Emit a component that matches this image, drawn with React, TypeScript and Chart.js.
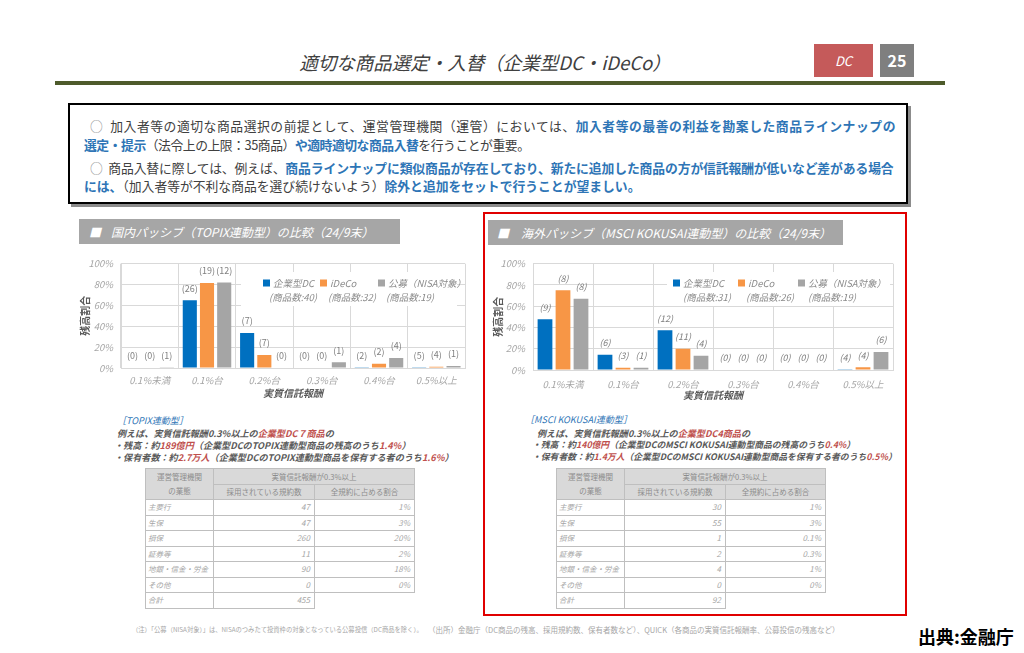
import React, { useEffect, useRef } from "react";
import { Chart, registerables } from "chart.js";
Chart.register(...registerables);

const FONT = '"Noto Sans CJK JP", "Noto Sans", sans-serif';

const categories = ["0.1%未満", "0.1%台", "0.2%台", "0.3%台", "0.4%台", "0.5%以上"];
const seriesNames = ["企業型DC", "iDeCo", "公募（NISA対象）"];
const seriesColors = ["#0070c0", "#f79646", "#a5a5a5"];
const yTickValues = [0, 20, 40, 60, 80, 100];

const topixShareDC = [0, 65, 33.5, 0, 0.6, 0.3];
const topixShareIDeCo = [0, 81.5, 12.4, 0, 4, 1.2];
const topixShareNISA = [0.2, 82, 0, 5.6, 9.6, 2];
const topixCountDC = [0, 26, 7, 0, 2, 5];
const topixCountIDeCo = [0, 19, 7, 0, 2, 4];
const topixCountNISA = [1, 12, 0, 1, 4, 1];
const topixProductTotals = ["(商品数:40)", "(商品数:32)", "(商品数:19)"];

const kokusaiShareDC = [47.8, 14.4, 37.5, 0, 0, 0.3];
const kokusaiShareIDeCo = [75, 2.2, 20, 0, 0, 2.5];
const kokusaiShareNISA = [67, 2.2, 13.4, 0, 0, 17];
const kokusaiCountDC = [9, 6, 12, 0, 0, 4];
const kokusaiCountIDeCo = [8, 3, 11, 0, 0, 4];
const kokusaiCountNISA = [8, 1, 4, 0, 0, 6];
const kokusaiProductTotals = ["(商品数:31)", "(商品数:26)", "(商品数:19)"];

const tableRowLabels = ["主要行", "生保", "損保", "証券等", "地銀・信金・労金", "その他", "合計"];
const topixContracts = [47, 47, 260, 11, 90, 0, 455];
const topixContractShare = ["1%", "3%", "20%", "2%", "18%", "0%"];
const kokusaiContracts = [30, 55, 1, 2, 4, 0, 92];
const kokusaiContractShare = ["1%", "3%", "0.1%", "0.3%", "1%", "0%"];

type ChartProps = {
  left: number;
  top: number;
  width: number;
  height: number;
  padTop: number;
  padRight: number;
  yWidth: number;
  xHeight: number;
  yTitlePad: number;
  xTitlePad: number;
  xTickPad: number;
  shares: number[][];
  counts: number[][];
  totals: string[];
  labelItalic: boolean;
  legendRect: [number, number, number, number];
  legendSquares: number[];
  legendRow1: number;
  legendRow2: number;
  legendRow2Centers: number[];
};

function BarChart(p: ChartProps) {
  const ref = useRef<HTMLCanvasElement | null>(null);
  useEffect(() => {
    if (!ref.current) return;
    const countPlugin = {
      id: "countLabels",
      afterDatasetsDraw(chart: any) {
        const ctx = chart.ctx;
        ctx.save();
        ctx.font = `${p.labelItalic ? "italic " : ""}9px ${FONT}`;
        ctx.fillStyle = "#808080";
        ctx.textAlign = "center";
        ctx.textBaseline = "middle";
        chart.data.datasets.forEach((_ds: any, i: number) => {
          const meta = chart.getDatasetMeta(i);
          meta.data.forEach((bar: any, j: number) => {
            ctx.fillText(`(${p.counts[i][j]})`, bar.x, bar.y - 12);
          });
        });
        // legend
        const [rx, ry, rw, rh] = p.legendRect;
        ctx.fillStyle = "#ffffff";
        ctx.fillRect(rx, ry, rw, rh);
        ctx.font = `italic 9.5px ${FONT}`;
        ctx.textAlign = "left";
        for (let i = 0; i < 3; i++) {
          ctx.fillStyle = seriesColors[i];
          ctx.fillRect(p.legendSquares[i], p.legendRow1 - 3.5, 7, 7);
          ctx.fillStyle = "#8c8c8c";
          ctx.fillText(seriesNames[i], p.legendSquares[i] + 10, p.legendRow1);
        }
        ctx.textAlign = "center";
        for (let i = 0; i < 3; i++) {
          ctx.fillText(p.totals[i], p.legendRow2Centers[i], p.legendRow2);
        }
        ctx.restore();
      },
    };
    const chart = new Chart(ref.current, {
      type: "bar",
      data: {
        labels: categories,
        datasets: p.shares.map((s, i) => ({
          label: seriesNames[i],
          data: s,
          backgroundColor: seriesColors[i],
          borderWidth: 0,
          barPercentage: 0.82,
          categoryPercentage: 0.9,
        })),
      },
      options: {
        animation: false,
        responsive: false,
        maintainAspectRatio: false,
        layout: { padding: { top: p.padTop, right: p.padRight, left: 0, bottom: 0 } },
        plugins: { legend: { display: false }, tooltip: { enabled: false } },
        scales: {
          x: {
            grid: { color: "#d9d9d9", drawTicks: false, offset: true },
            border: { color: "#d9d9d9" },
            ticks: {
              color: "#a6a6a6",
              font: { family: FONT, size: 9.5, style: "italic" },
              padding: p.xTickPad,
              maxRotation: 0,
              autoSkip: false,
            },
            title: {
              display: true,
              text: "実質信託報酬",
              color: "#595959",
              font: { family: FONT, size: 10, weight: "bold", style: "italic" },
              padding: { top: 0, bottom: p.xTitlePad },
            },
            afterFit: (s: any) => {
              s.height = p.xHeight;
            },
          },
          y: {
            min: 0,
            max: 100,
            afterBuildTicks: (s: any) => {
              s.ticks = yTickValues.map((v) => ({ value: v }));
            },
            grid: { color: "#d9d9d9", drawTicks: false },
            border: { color: "#d9d9d9" },
            ticks: {
              color: "#a6a6a6",
              font: { family: FONT, size: 9.5, style: "italic" },
              padding: 8,
              callback: (v: any) => `${v}%`,
            },
            title: {
              display: true,
              text: "残高割合",
              color: "#595959",
              font: { family: FONT, size: 10, weight: "bold" },
              padding: { top: p.yTitlePad, bottom: 0 },
            },
            afterFit: (s: any) => {
              s.width = p.yWidth;
            },
          },
        },
      } as any,
      plugins: [countPlugin],
    });
    return () => chart.destroy();
  }, []);
  return (
    <canvas
      ref={ref}
      width={p.width}
      height={p.height}
      style={{ position: "absolute", left: p.left, top: p.top, width: p.width, height: p.height }}
    />
  );
}

function DataTable({ left, contracts, shares }: { left: number; contracts: number[]; shares: string[] }) {
  const bd = "1px solid #bfbfbf";
  const hdr: React.CSSProperties = {
    border: bd,
    background: "#d9d9d9",
    textAlign: "center",
    fontStyle: "normal",
    fontSize: 7.5,
    padding: 0,
    color: "#8c8c8c",
    whiteSpace: "nowrap",
  };
  const td: React.CSSProperties = { border: bd, padding: "0 4px", height: 14.5, whiteSpace: "nowrap", overflow: "hidden" };
  return (
    <table
      style={{
        position: "absolute",
        left,
        top: 468,
        borderCollapse: "collapse",
        tableLayout: "fixed",
        width: 269,
        fontSize: 8,
        color: "#a6a6a6",
        fontStyle: "italic",
        fontFamily: FONT,
        lineHeight: "10px",
      }}
    >
      <colgroup>
        <col style={{ width: 68 }} />
        <col style={{ width: 101 }} />
        <col style={{ width: 100 }} />
      </colgroup>
      <tbody>
        <tr style={{ height: 16 }}>
          <td rowSpan={2} style={{ ...hdr, lineHeight: "14px" }}>
            運営管理機関
            <br />
            の業態
          </td>
          <td colSpan={2} style={hdr}>
            実質信託報酬が0.3%以上
          </td>
        </tr>
        <tr style={{ height: 15 }}>
          <td style={hdr}>採用されている規約数</td>
          <td style={hdr}>全規約に占める割合</td>
        </tr>
        {tableRowLabels.map((lab, i) => (
          <tr key={lab} style={{ height: 15.5 }}>
            <td style={{ ...td, textAlign: "left", padding: "0 2px", fontSize: 7.5 }}>{lab}</td>
            <td style={{ ...td, textAlign: "right" }}>{contracts[i]}</td>
            {i < shares.length ? (
              <td style={{ ...td, textAlign: "right" }}>{shares[i]}</td>
            ) : (
              <td style={{ border: "none" }} />
            )}
          </tr>
        ))}
      </tbody>
    </table>
  );
}

const blue: React.CSSProperties = { color: "#2e75b6", fontWeight: "bold" };
const red: React.CSSProperties = { color: "#c0504d" };

export default function App() {
  const lineStyle = (top: number, left: number, ls: number): React.CSSProperties => ({
    position: "absolute",
    top: top - 9,
    left,
    whiteSpace: "nowrap",
    fontSize: 12.8,
    lineHeight: "18px",
    color: "#404040",
    letterSpacing: ls,
  });
  const smallLine = (top: number, left: number, extra?: React.CSSProperties): React.CSSProperties => ({
    position: "absolute",
    top: top - 5,
    left,
    whiteSpace: "nowrap",
    fontSize: 9.1,
    lineHeight: "10px",
    color: "#595959",
    fontStyle: "italic",
    fontWeight: "bold",
    ...extra,
  });
  return (
    <div
      style={{
        position: "absolute",
        left: 0,
        top: 0,
        width: 1024,
        height: 653,
        overflow: "hidden",
        background: "#ffffff",
        fontFamily: FONT,
      }}
    >
      {/* title */}
      <div
        style={{
          position: "absolute",
          left: 250,
          width: 470,
          top: 49,
          textAlign: "center",
          fontSize: 18.5,
          lineHeight: "26px",
          fontStyle: "italic",
          color: "#404040",
        }}
      >
        適切な商品選定・入替（企業型DC・iDeCo）
      </div>
      <div
        style={{
          position: "absolute",
          left: 814,
          top: 44,
          width: 59,
          height: 33,
          background: "#c55a5a",
          color: "#fff",
          fontStyle: "italic",
          fontSize: 13,
          lineHeight: "33px",
          textAlign: "center",
        }}
      >
        DC
      </div>
      <div
        style={{
          position: "absolute",
          left: 880,
          top: 44,
          width: 34,
          height: 33,
          background: "#7f7f7f",
          color: "#fff",
          fontWeight: "bold",
          fontSize: 16,
          lineHeight: "33px",
          textAlign: "center",
        }}
      >
        25
      </div>
      <div style={{ position: "absolute", left: 55, top: 81, width: 890, height: 4, background: "#4e5b2b" }} />

      {/* top box */}
      <div
        style={{
          position: "absolute",
          left: 68,
          top: 103,
          width: 836,
          height: 97,
          border: "2px solid #000",
          boxShadow: "3px 3px 0 #8c8c8c",
        }}
      />
      <div style={lineStyle(126, 90, 0.55)}>
        <span style={{ color: "#8c8c8c" }}>○</span>&nbsp;&nbsp;加入者等の適切な商品選択の前提として、運営管理機関（運管）においては、
        <span style={blue}>加入者等の最善の利益を勘案した商品ラインナップの</span>
      </div>
      <div style={lineStyle(145, 84, -0.45)}>
        <span style={blue}>選定・提示</span>（法令上の上限：35商品）<span style={blue}>や適時適切な商品入替</span>を行うことが重要。
      </div>
      <div style={lineStyle(168, 90, -0.1)}>
        <span style={{ color: "#8c8c8c" }}>○</span>&nbsp;&nbsp;商品入替に際しては、例えば、
        <span style={blue}>商品ラインナップに類似商品が存在しており、新たに追加した商品の方が信託報酬が低いなど差がある場合</span>
      </div>
      <div style={lineStyle(186, 84, 0)}>
        <span style={blue}>には、</span>（加入者等が不利な商品を選び続けないよう）<span style={blue}>除外と追加をセットで行うことが望ましい。</span>
      </div>

      {/* section headers */}
      <div
        style={{
          position: "absolute",
          left: 79,
          top: 219,
          width: 321,
          height: 25,
          background: "#a6a6a6",
          color: "#fff",
          fontStyle: "italic",
          fontSize: 12,
          lineHeight: "25px",
          whiteSpace: "nowrap",
        }}
      >
        <span style={{ marginLeft: 10 }}>■</span>
        <span style={{ marginLeft: 10 }}>国内パッシブ（TOPIX連動型）の比較（24/9末）</span>
      </div>
      <div
        style={{
          position: "absolute",
          left: 483,
          top: 212,
          width: 420,
          height: 400,
          border: "2px solid #e00000",
        }}
      />
      <div
        style={{
          position: "absolute",
          left: 488,
          top: 220,
          width: 355,
          height: 25,
          background: "#a6a6a6",
          color: "#fff",
          fontStyle: "italic",
          fontSize: 12,
          lineHeight: "25px",
          whiteSpace: "nowrap",
        }}
      >
        <span style={{ marginLeft: 9 }}>■</span>
        <span style={{ marginLeft: 12 }}>海外パッシブ（MSCI KOKUSAI連動型）の比較（24/9末）</span>
      </div>

      <BarChart
        left={60}
        top={250}
        width={415}
        height={152}
        padTop={10}
        padRight={10}
        yWidth={61}
        xHeight={34}
        yTitlePad={19}
        xTitlePad={3}
        xTickPad={7}
        shares={[topixShareDC, topixShareIDeCo, topixShareNISA]}
        counts={[topixCountDC, topixCountIDeCo, topixCountNISA]}
        totals={topixProductTotals}
        labelItalic={false}
        legendRect={[181, 22, 216, 34]}
        legendSquares={[203, 260, 318]}
        legendRow1={33}
        legendRow2={47}
        legendRow2Centers={[233, 292, 350]}
      />
      <BarChart
        left={480}
        top={250}
        width={425}
        height={152}
        padTop={13}
        padRight={12}
        yWidth={53}
        xHeight={32}
        yTitlePad={12}
        xTitlePad={1}
        xTickPad={9}
        shares={[kokusaiShareDC, kokusaiShareIDeCo, kokusaiShareNISA]}
        counts={[kokusaiCountDC, kokusaiCountIDeCo, kokusaiCountNISA]}
        totals={kokusaiProductTotals}
        labelItalic={true}
        legendRect={[187, 22, 223, 34]}
        legendSquares={[193, 258, 318]}
        legendRow1={33}
        legendRow2={47}
        legendRow2Centers={[227, 290, 352]}
      />

      {/* left notes */}
      <div style={smallLine(420, 117, { color: "#2e75b6", fontWeight: "normal" })}>［TOPIX連動型］</div>
      <div style={smallLine(433, 117)}>
        例えば、実質信託報酬0.3%以上の<span style={red}>企業型DC７商品</span>の
      </div>
      <div style={smallLine(445, 114)}>
        ・残高：約<span style={red}>189億円</span>（企業型DCのTOPIX連動型商品の残高のうち<span style={red}>1.4%</span>）
      </div>
      <div style={smallLine(457, 114)}>
        ・保有者数：約<span style={red}>2.7万人</span>（企業型DCのTOPIX連動型商品を保有する者のうち<span style={red}>1.6%</span>）
      </div>
      {/* right notes */}
      <div style={smallLine(419, 525, { color: "#2e75b6", fontWeight: "normal" })}>［MSCI KOKUSAI連動型］</div>
      <div style={smallLine(433, 537)}>
        例えば、実質信託報酬0.3%以上の<span style={red}>企業型DC4商品</span>の
      </div>
      <div style={smallLine(445, 532, { fontSize: 8.8 })}>
        ・残高：約<span style={red}>140億円</span>（企業型DCのMSCI KOKUSAI連動型商品の残高のうち<span style={red}>0.4%</span>）
      </div>
      <div style={smallLine(457, 532, { fontSize: 8.8 })}>
        ・保有者数：約<span style={red}>1.4万人</span>（企業型DCのMSCI KOKUSAI連動型商品を保有する者のうち<span style={red}>0.5%</span>）
      </div>

      <DataTable left={145} contracts={topixContracts} shares={topixContractShare} />
      <DataTable left={556} contracts={kokusaiContracts} shares={kokusaiContractShare} />

      {/* footnotes */}
      <div
        style={{
          position: "absolute",
          left: 132,
          top: 625,
          fontSize: 6.3,
          lineHeight: "10px",
          color: "#a6a6a6",
          whiteSpace: "nowrap",
        }}
      >
        （注）「公募（NISA対象）」は、NISAのつみたて投資枠の対象となっている公募投信（DC商品を除く）。
      </div>
      <div
        style={{
          position: "absolute",
          left: 428,
          top: 625,
          fontSize: 7.5,
          lineHeight: "10px",
          color: "#a6a6a6",
          whiteSpace: "nowrap",
        }}
      >
        （出所）金融庁（DC商品の残高、採用規約数、保有者数など）、QUICK（各商品の実質信託報酬率、公募投信の残高など）
      </div>
      <div
        style={{
          position: "absolute",
          left: 918,
          top: 624,
          fontSize: 18,
          lineHeight: "24px",
          fontWeight: "bold",
          color: "#000",
          whiteSpace: "nowrap",
        }}
      >
        出典:金融庁
      </div>
    </div>
  );
}
